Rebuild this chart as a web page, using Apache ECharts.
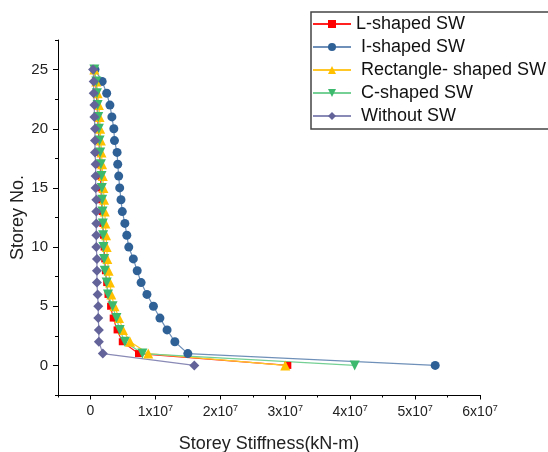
<!DOCTYPE html>
<html>
<head>
<meta charset="utf-8">
<script src="https://cdn.jsdelivr.net/npm/echarts@6/dist/echarts.min.js"></script>
<style>
  html, body { margin: 0; padding: 0; background: #fff; }
  #chart { width: 548px; height: 452px; }
</style>
</head>
<body>
<div id="chart"></div>
<script>
// Storey numbers (ground = 0 up to roof = 25)
const storeys = [0,1,2,3,4,5,6,7,8,9,10,11,12,13,14,15,16,17,18,19,20,21,22,23,24,25];

// Storey stiffness per storey, in units of 1x10^7 kN-m
const lShaped    = [3.04,0.74,0.49,0.41,0.35,0.31,0.27,0.25,0.23,0.22,0.21,0.20,0.19,0.18,0.17,0.16,0.155,0.15,0.14,0.13,0.12,0.11,0.10,0.09,0.08,0.06];
const iShaped    = [5.31,1.50,1.30,1.18,1.07,0.97,0.87,0.78,0.72,0.66,0.59,0.56,0.53,0.49,0.47,0.45,0.435,0.42,0.41,0.37,0.36,0.33,0.30,0.25,0.18,0.07];
const rectShaped = [3.00,0.89,0.61,0.50,0.44,0.37,0.32,0.30,0.28,0.26,0.25,0.24,0.23,0.22,0.21,0.20,0.19,0.18,0.17,0.16,0.15,0.14,0.13,0.11,0.09,0.06];
const cShaped    = [4.07,0.80,0.53,0.45,0.40,0.34,0.27,0.25,0.22,0.21,0.20,0.195,0.19,0.185,0.18,0.175,0.17,0.16,0.15,0.14,0.13,0.12,0.11,0.10,0.09,0.06];
const withoutSW  = [1.60,0.19,0.13,0.13,0.12,0.12,0.11,0.10,0.10,0.10,0.09,0.09,0.09,0.09,0.09,0.08,0.08,0.08,0.07,0.07,0.07,0.06,0.06,0.05,0.05,0.04];
const UNIT = 1e7;

// Axis tick values
const xMajor = [0, 1e7, 2e7, 3e7, 4e7, 5e7, 6e7];
const xMinor = [-5e6, 5e6, 1.5e7, 2.5e7, 3.5e7, 4.5e7, 5.5e7];
const yMajor = [0, 5, 10, 15, 20, 25];
const yMinor = [-2.5, 2.5, 7.5, 12.5, 17.5, 22.5, 27.5];

const FONT = 'Liberation Sans, Arial, sans-serif';

function pairs(vals) {
  return vals.map((v, i) => [v * UNIT, storeys[i]]);
}

const seriesDefs = [
  { name: 'L-shaped SW',          data: lShaped,    color: '#ff0000', line: '#ff2020', symbol: 'rect',     size: 7 },
  { name: 'I-shaped SW',          data: iShaped,    color: '#2f6197', line: '#6f90b8', symbol: 'circle',   size: 9 },
  { name: 'Rectangle- shaped SW', data: rectShaped, color: '#ffc000', line: '#ffc828', symbol: 'triangle', size: 10 },
  { name: 'C-shaped SW',          data: cShaped,    color: '#3cb96c', line: '#74d094', symbol: 'path://M0,0 L10,0 L5,9 Z', size: 10 },
  { name: 'Without SW',           data: withoutSW,  color: '#636399', line: '#8a8ab6', symbol: 'diamond',  size: 10 }
];

const chart = echarts.init(document.getElementById('chart'), null, { renderer: 'canvas' });

const axisCommon = {
  type: 'value',
  splitLine: { show: false }
};
const mainLine = { show: true, onZero: false, lineStyle: { color: '#000', width: 1 } };
const hiddenLine = { show: false, onZero: false };

chart.setOption({
  backgroundColor: '#fff',
  animation: false,
  grid: { left: 58, right: 68, top: 40, bottom: 57, containLabel: false, outerBoundsMode: 'none' },
  // Legend frame runs past the right edge of the canvas
  graphic: [{
    type: 'rect',
    x: 311,
    y: 12,
    shape: { x: 0, y: 0, width: 280, height: 117 },
    style: { fill: 'none', stroke: '#444', lineWidth: 1.5 },
    silent: true
  }],
  legend: {
    orient: 'vertical',
    left: 311,
    top: 13,
    padding: [2, 8, 4, 1],
    itemGap: 5,
    itemWidth: 38,
    itemHeight: 10,
    borderWidth: 0,
    formatter: name => name === 'L-shaped SW' ? name : ' ' + name,
    textStyle: { fontFamily: FONT, fontSize: 18, color: '#111' }
  },
  xAxis: [
    Object.assign({}, axisCommon, {
      min: -5e6, max: 6e7,
      position: 'bottom',
      axisLine: mainLine,
      name: 'Storey Stiffness(kN-m)',
      nameLocation: 'middle',
      nameGap: 40,
      nameMoveOverlap: false,
      nameTextStyle: { fontFamily: FONT, fontSize: 18, color: '#222' },
      axisTick: { show: true, inside: false, length: 4.5, customValues: xMajor, lineStyle: { color: '#000' } },
      axisLabel: {
        customValues: xMajor,
        margin: 9,
        fontFamily: FONT, fontSize: 14, color: '#222',
        formatter: v => v === 0 ? '{b|0}' : '{b|' + Math.round(v / UNIT) + 'x10}{s|7}',
        rich: {
          b: { fontFamily: FONT, fontSize: 14, color: '#222' },
          s: { fontFamily: FONT, fontSize: 9, color: '#222', verticalAlign: 'top', padding: [0, 0, 7, 0] }
        }
      }
    }),
    Object.assign({}, axisCommon, {
      min: -5e6, max: 6e7,
      position: 'bottom',
      axisLine: hiddenLine,
      axisTick: { show: true, length: 2.5, customValues: xMinor, lineStyle: { color: '#000' } },
      axisLabel: { show: false }
    })
  ],
  yAxis: [
    Object.assign({}, axisCommon, {
      min: -2.5, max: 27.5,
      position: 'left',
      axisLine: mainLine,
      name: 'Storey No.',
      nameLocation: 'middle',
      nameGap: 31,
      nameRotate: 90,
      nameMoveOverlap: false,
      nameTextStyle: { fontFamily: FONT, fontSize: 18, color: '#222' },
      axisTick: { show: true, length: 5, customValues: yMajor, lineStyle: { color: '#000' } },
      axisLabel: { customValues: yMajor, margin: 10, fontFamily: FONT, fontSize: 15, color: '#222' }
    }),
    Object.assign({}, axisCommon, {
      min: -2.5, max: 27.5,
      position: 'left',
      axisLine: hiddenLine,
      axisTick: { show: true, length: 3, customValues: yMinor, lineStyle: { color: '#000' } },
      axisLabel: { show: false }
    })
  ],
  series: seriesDefs.map(s => ({
    name: s.name,
    type: 'line',
    xAxisIndex: 0,
    yAxisIndex: 0,
    data: pairs(s.data),
    symbol: s.symbol,
    symbolSize: s.size,
    showAllSymbol: true,
    itemStyle: { color: s.color },
    lineStyle: { color: s.line, width: 1.2 },
    emphasis: { disabled: true }
  }))
});
</script>
</body>
</html>
